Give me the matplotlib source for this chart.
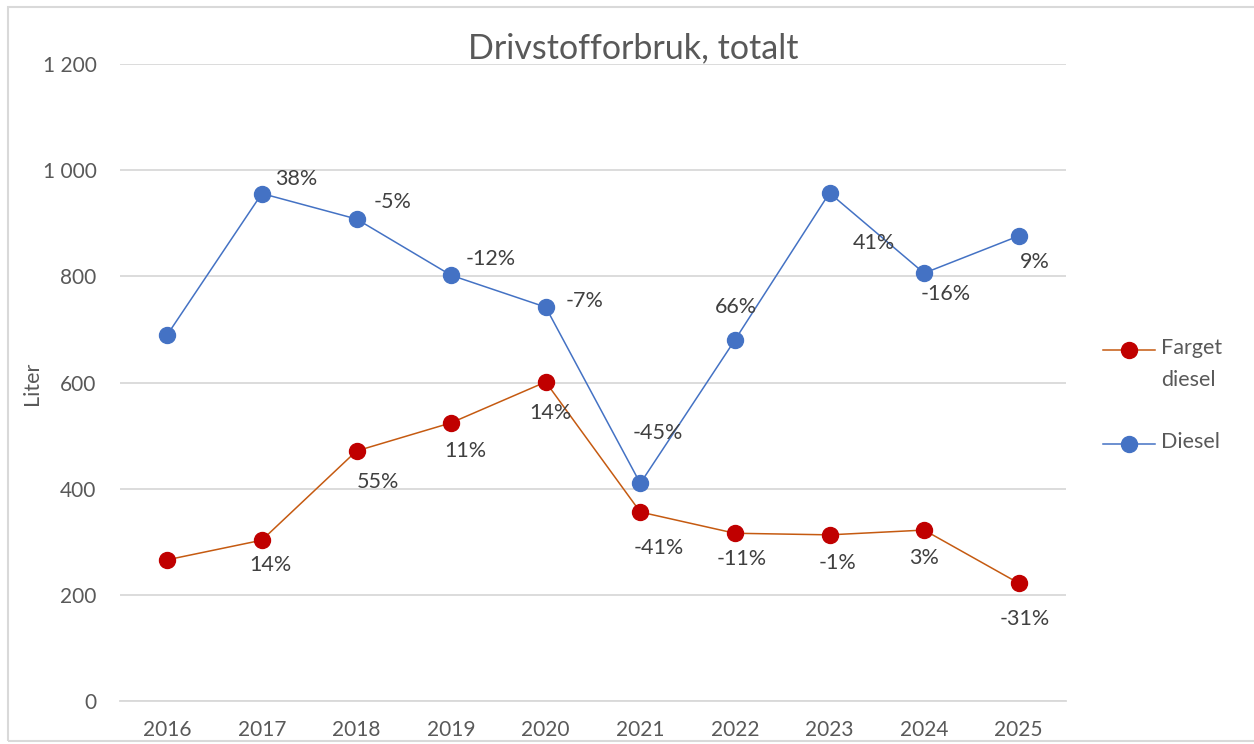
"""Drivstofforbruk, totalt: farget diesel og diesel per år."""

import matplotlib

matplotlib.use("Agg")
import matplotlib.pyplot as plt
from matplotlib.lines import Line2D
from matplotlib.patches import Rectangle
from matplotlib.ticker import FuncFormatter

plt.rcParams["font.family"] = ["Lato", "DejaVu Sans"]

years = ["2016", "2017", "2018", "2019", "2020", "2021", "2022", "2023", "2024", "2025"]
farget_diesel = [266, 303, 471, 524, 601, 356, 316, 313, 322, 222]
diesel = [690, 956, 908, 802, 742, 410, 680, 957, 806, 876]
farget_labels = ["", "14%", "55%", "11%", "14%", "-41%", "-11%", "-1%", "3%", "-31%"]
diesel_labels = ["", "38%", "-5%", "-12%", "-7%", "-45%", "66%", "41%", "-16%", "9%"]

# label offsets in pixels (hand placed in the original)
farget_offsets = [(0, 0), (9, -25), (21, -31), (14, -28), (5, -31),
                  (18, -36), (7, -26), (8, -28), (0, -28), (6, -36)]
diesel_offsets = [(0, 0), (34, 15), (36, 17), (40, 16), (39, 6),
                  (18, 50), (1, 33), (44, -50), (22, -21), (16, -26)]

TEXT = "#595959"
GRID = "#D9D9D9"
BLUE = "#4472C4"
RED = "#C00000"
ORANGE = "#C55A11"

W, H = 1254, 744
fig = plt.figure(figsize=(W / 100, H / 100), dpi=100)
ax = fig.add_axes([120 / W, 1 - 701 / H, (1066 - 120) / W, (701 - 64) / H])

x = list(range(len(years)))
ax.plot(x, farget_diesel, color=ORANGE, lw=1.1, marker="o", ms=11.5,
        mfc=RED, mec=RED, zorder=3)
ax.plot(x, diesel, color=BLUE, lw=1.1, marker="o", ms=11.5,
        mfc=BLUE, mec=BLUE, zorder=3)

for xi, yi, lab, off in zip(x, farget_diesel, farget_labels, farget_offsets):
    if lab:
        ax.annotate(lab, (xi, yi), xytext=off, textcoords="offset pixels",
                    ha="center", va="center", fontsize=15.5, color="#404040")
for xi, yi, lab, off in zip(x, diesel, diesel_labels, diesel_offsets):
    if lab:
        ax.annotate(lab, (xi, yi), xytext=off, textcoords="offset pixels",
                    ha="center", va="center", fontsize=15.5, color="#404040")

ax.set_xlim(-0.5, len(years) - 0.5)
ax.set_ylim(0, 1200)
ax.set_yticks(range(0, 1201, 200))
ax.yaxis.set_major_formatter(FuncFormatter(lambda v, _: f"{int(v):,}".replace(",", " ")))
ax.set_xticks(x)
ax.set_xticklabels(years)
ax.grid(axis="y", color=GRID, lw=1.3)
ax.set_axisbelow(True)
for side in ["top", "right", "left"]:
    ax.spines[side].set_visible(False)
ax.spines["bottom"].set_color(GRID)
ax.spines["bottom"].set_linewidth(1.3)
ax.tick_params(axis="both", length=0, labelsize=15, labelcolor=TEXT)
ax.tick_params(axis="y", pad=17)
ax.tick_params(axis="x", pad=14)

fig.text(32 / W, 1 - 383 / H, "Liter", rotation=90, ha="center", va="center",
         fontsize=15.5, color=TEXT)
fig.text(633 / W, 1 - 48 / H, "Drivstofforbruk, totalt", ha="center", va="center",
         fontsize=24.5, color=TEXT)

# legend drawn by hand to match the original layout
for ly, col, lab in [(350, ORANGE, "Farget\ndiesel"), (444, BLUE, "Diesel")]:
    yy = 1 - ly / H
    fig.add_artist(Line2D([1103 / W, 1155 / W], [yy, yy], color=col, lw=1.1,
                          transform=fig.transFigure))
    mcol = RED if col == ORANGE else BLUE
    fig.add_artist(Line2D([1129 / W], [yy], marker="o", ms=11.5, mfc=mcol, mec=mcol,
                          transform=fig.transFigure))
    fig.text(1161 / W, yy + 12 / H, lab, ha="left", va="top", fontsize=15.5,
             color=TEXT, linespacing=1.75)

fig.add_artist(Rectangle((8 / W, 3 / H), 1.0, 1 - 10 / H, transform=fig.transFigure,
                         fill=False, edgecolor=GRID, lw=1.5))

fig.savefig("out.png", dpi=100)
